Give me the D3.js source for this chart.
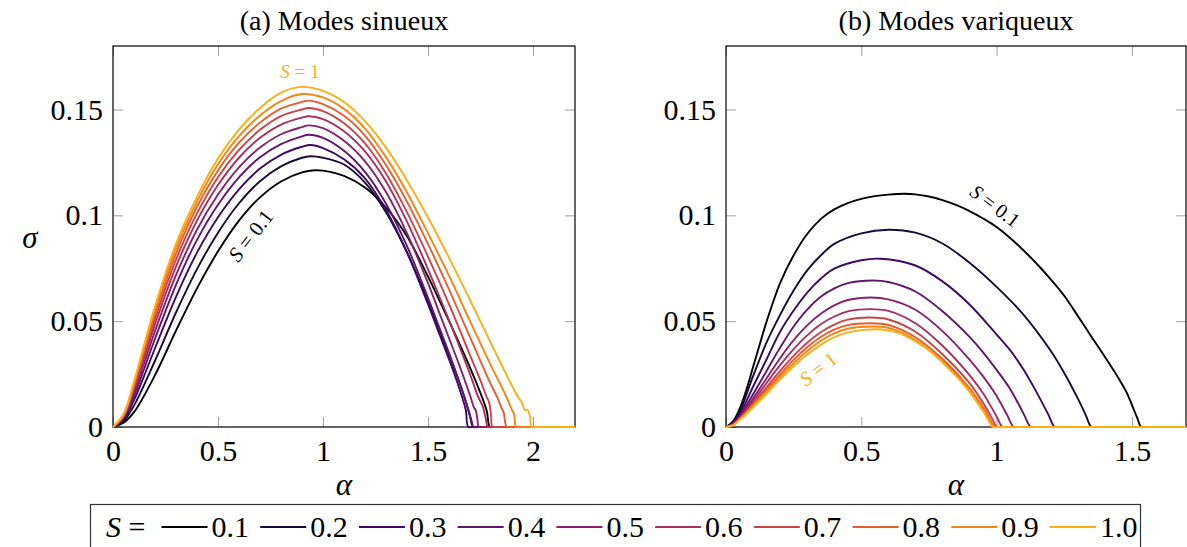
<!DOCTYPE html>
<html><head><meta charset="utf-8">
<script src="https://cdn.jsdelivr.net/npm/d3@7"></script>
<style>
body{margin:0;background:#fff}
svg{display:block}
text{font-family:"Liberation Serif","Times New Roman",serif}
</style>
</head><body>
<svg id="chart" width="1187" height="547"></svg>
<script>
// ---------- data ----------
const sValues = [0.1,0.2,0.3,0.4,0.5,0.6,0.7,0.8,0.9,1.0];
const legendLabels = ["0.1","0.2","0.3","0.4","0.5","0.6","0.7","0.8","0.9","1.0"];
const xTicksLeft = [0,0.5,1,1.5,2];
const xTickLabelsLeft = ["0","0.5","1","1.5","2"];
const xTicksRight = [0,0.5,1,1.5];
const xTickLabelsRight = ["0","0.5","1","1.5"];
const yTicks = [0,0.05,0.1,0.15];
const yTickLabels = ["0","0.05","0.1","0.15"];
const panelTitles = ["(a) Modes sinueux","(b) Modes variqueux"];

// (a) sinuous modes: [alpha, sigma]
const sin01 = [[0,0],[0.05,0.002],[0.1,0.007],[0.2,0.0245],[0.3,0.0455],[0.4,0.0655],[0.5,0.083],[0.6,0.0975],[0.7,0.1085],[0.8,0.116],[0.9,0.1203],[0.96,0.1213],[1.0,0.1211],[1.1,0.1186],[1.2,0.1131],[1.3,0.1036],[1.4,0.0901],[1.5,0.0711],[1.6,0.0501],[1.7,0.0281],[1.75,0.016],[1.78,0.0075],[1.795,0],[1.82,0],[2.2,0]];
const sin02 = [[0,0],[0.05,0.0028],[0.1,0.0101],[0.2,0.0313],[0.3,0.0541],[0.4,0.0746],[0.5,0.0918],[0.6,0.1057],[0.7,0.1161],[0.8,0.1231],[0.9,0.1272],[0.94,0.1279],[1.0,0.1272],[1.1,0.124],[1.2,0.1155],[1.3,0.1015],[1.4,0.0825],[1.5,0.0595],[1.55,0.047],[1.6,0.034],[1.65,0.021],[1.68,0.012],[1.70,0.005],[1.715,0],[1.74,0],[2.2,0]];
const sin03 = [[0,0],[0.05,0.0036],[0.1,0.0127],[0.2,0.0372],[0.3,0.0615],[0.4,0.0824],[0.5,0.0991],[0.6,0.1123],[0.7,0.1221],[0.8,0.1286],[0.9,0.1324],[0.94,0.1332],[1.0,0.1318],[1.1,0.1265],[1.2,0.1175],[1.3,0.1025],[1.4,0.0825],[1.5,0.058],[1.55,0.045],[1.6,0.032],[1.65,0.018],[1.68,0.008],[1.692,0],[1.72,0],[2.2,0]];
const sin04 = [[0,0],[0.05,0.0041],[0.1,0.0147],[0.2,0.0417],[0.3,0.0672],[0.4,0.0884],[0.5,0.105],[0.6,0.1179],[0.7,0.1274],[0.8,0.1336],[0.9,0.1373],[0.93,0.1381],[1.0,0.1366],[1.1,0.1305],[1.2,0.1205],[1.3,0.1055],[1.4,0.0855],[1.5,0.061],[1.55,0.048],[1.6,0.035],[1.65,0.021],[1.69,0.009],[1.71,0.002],[1.716,0],[1.74,0],[2.2,0]];
const sin05 = [[0,0],[0.05,0.0046],[0.1,0.0163],[0.2,0.0453],[0.3,0.0717],[0.4,0.0932],[0.5,0.1098],[0.6,0.1227],[0.7,0.132],[0.8,0.1383],[0.9,0.1417],[0.93,0.1425],[1.0,0.1412],[1.1,0.1352],[1.2,0.1255],[1.3,0.111],[1.4,0.0915],[1.5,0.068],[1.55,0.055],[1.6,0.042],[1.65,0.029],[1.7,0.015],[1.72,0.009],[1.727,0.008],[1.735,0.004],[1.742,0],[1.77,0],[2.2,0]];
const sin06 = [[0,0],[0.05,0.005],[0.1,0.0177],[0.2,0.0486],[0.3,0.0758],[0.4,0.0975],[0.5,0.1143],[0.6,0.1272],[0.7,0.1366],[0.8,0.1429],[0.9,0.1462],[0.93,0.1468],[1.0,0.1455],[1.1,0.1397],[1.2,0.1302],[1.3,0.116],[1.4,0.097],[1.5,0.0745],[1.6,0.0505],[1.65,0.038],[1.7,0.025],[1.74,0.014],[1.75,0.012],[1.76,0.01],[1.775,0.004],[1.785,0],[1.81,0],[2.2,0]];
const sin07 = [[0,0],[0.05,0.0053],[0.1,0.0189],[0.2,0.0512],[0.3,0.0791],[0.4,0.1009],[0.5,0.118],[0.6,0.1309],[0.7,0.1404],[0.8,0.1469],[0.9,0.15],[0.93,0.1507],[1.0,0.1492],[1.1,0.1435],[1.2,0.134],[1.3,0.1198],[1.4,0.1015],[1.5,0.0805],[1.6,0.058],[1.7,0.034],[1.75,0.022],[1.78,0.014],[1.79,0.012],[1.80,0.006],[1.807,0],[1.83,0],[2.2,0]];
const sin08 = [[0,0],[0.05,0.0056],[0.1,0.0199],[0.2,0.0534],[0.3,0.082],[0.4,0.104],[0.5,0.1212],[0.6,0.1343],[0.7,0.1438],[0.8,0.1504],[0.9,0.1536],[0.93,0.1542],[1.0,0.1525],[1.1,0.147],[1.2,0.1377],[1.3,0.1238],[1.4,0.1065],[1.5,0.0865],[1.6,0.065],[1.7,0.0425],[1.8,0.02],[1.83,0.014],[1.85,0.009],[1.86,0.007],[1.875,0],[1.9,0],[2.2,0]];
const sin09 = [[0,0],[0.05,0.0058],[0.1,0.0208],[0.2,0.0554],[0.3,0.0845],[0.4,0.1065],[0.5,0.1241],[0.6,0.1374],[0.7,0.1472],[0.8,0.154],[0.9,0.1573],[1.0,0.1557],[1.1,0.1503],[1.2,0.141],[1.3,0.1275],[1.4,0.1108],[1.5,0.0915],[1.6,0.0715],[1.7,0.05],[1.8,0.029],[1.87,0.015],[1.9,0.008],[1.91,0.006],[1.92,0],[1.95,0],[2.2,0]];
const sin10 = [[0,0],[0.05,0.006],[0.1,0.0215],[0.2,0.057],[0.3,0.0865],[0.4,0.1087],[0.5,0.1268],[0.6,0.1405],[0.7,0.1507],[0.8,0.158],[0.9,0.1607],[1.0,0.1588],[1.1,0.1535],[1.2,0.1445],[1.3,0.132],[1.4,0.1165],[1.5,0.099],[1.6,0.08],[1.7,0.06],[1.8,0.0395],[1.9,0.0195],[1.93,0.014],[1.95,0.011],[1.96,0.008],[1.975,0.008],[1.985,0.005],[1.995,0],[2.02,0],[2.2,0]];

// (b) varicose modes: [alpha, sigma]
const var01 = [[0,0],[0.025,0.0025],[0.05,0.0085],[0.075,0.0175],[0.1,0.0283],[0.125,0.0392],[0.15,0.0498],[0.2,0.068],[0.25,0.0811],[0.3,0.0912],[0.35,0.0982],[0.4,0.1028],[0.45,0.1058],[0.5,0.1078],[0.55,0.1091],[0.6,0.1098],[0.66,0.1102],[0.7,0.1099],[0.75,0.1089],[0.8,0.1072],[0.85,0.1049],[0.9,0.102],[0.95,0.0985],[1.0,0.0945],[1.05,0.0893],[1.1,0.0834],[1.15,0.0769],[1.2,0.0698],[1.25,0.062],[1.3,0.0525],[1.35,0.0428],[1.4,0.0332],[1.45,0.0232],[1.48,0.0165],[1.5,0.0105],[1.52,0.0042],[1.535,0],[1.56,0],[1.7,0]];
const var02 = [[0,0],[0.025,0.002],[0.05,0.007],[0.1,0.024],[0.15,0.040],[0.2,0.053],[0.25,0.0645],[0.3,0.074],[0.35,0.081],[0.4,0.0865],[0.5,0.0915],[0.6,0.0932],[0.7,0.0918],[0.8,0.0867],[0.9,0.0776],[1.0,0.0662],[1.1,0.053],[1.2,0.036],[1.25,0.0255],[1.3,0.0135],[1.33,0.0055],[1.35,0],[1.37,0],[1.7,0]];
const var03 = [[0,0],[0.025,0.0018],[0.05,0.0058],[0.1,0.019],[0.15,0.032],[0.2,0.045],[0.25,0.055],[0.3,0.0635],[0.35,0.07],[0.4,0.0748],[0.5,0.0788],[0.57,0.0795],[0.7,0.0763],[0.8,0.0688],[0.9,0.0579],[1.0,0.0437],[1.05,0.0363],[1.1,0.027],[1.15,0.0159],[1.19,0.0062],[1.215,0],[1.235,0],[1.7,0]];
const var04 = [[0,0],[0.025,0.0015],[0.05,0.005],[0.1,0.0155],[0.15,0.0265],[0.2,0.0375],[0.25,0.0475],[0.3,0.0555],[0.35,0.0615],[0.4,0.0655],[0.45,0.068],[0.543,0.0692],[0.6,0.0685],[0.7,0.064],[0.8,0.0547],[0.9,0.0426],[0.95,0.0353],[1.0,0.027],[1.05,0.018],[1.1,0.0062],[1.126,0],[1.145,0],[1.7,0]];
const var05 = [[0,0],[0.025,0.0012],[0.05,0.0045],[0.1,0.0135],[0.15,0.023],[0.2,0.0325],[0.25,0.041],[0.3,0.048],[0.35,0.0535],[0.4,0.0575],[0.45,0.06],[0.537,0.0612],[0.6,0.0603],[0.7,0.0554],[0.8,0.0453],[0.9,0.0318],[0.95,0.0239],[1.0,0.0147],[1.04,0.0054],[1.063,0],[1.08,0],[1.7,0]];
const var06 = [[0,0],[0.025,0.001],[0.05,0.004],[0.1,0.0122],[0.15,0.0208],[0.2,0.0292],[0.25,0.0368],[0.3,0.0433],[0.35,0.0485],[0.4,0.0522],[0.45,0.0546],[0.535,0.0557],[0.6,0.0549],[0.7,0.049],[0.8,0.0384],[0.9,0.0245],[0.95,0.0159],[0.98,0.0095],[1.0,0.005],[1.022,0],[1.04,0],[1.7,0]];
const var07 = [[0,0],[0.025,0.001],[0.05,0.0037],[0.1,0.011],[0.15,0.0188],[0.2,0.0265],[0.25,0.0336],[0.3,0.0398],[0.35,0.0448],[0.4,0.0484],[0.45,0.0507],[0.535,0.0517],[0.6,0.0508],[0.7,0.045],[0.8,0.0344],[0.9,0.0207],[0.95,0.0114],[0.98,0.0049],[1.002,0],[1.02,0],[1.7,0]];
const var08 = [[0,0],[0.025,0.0009],[0.05,0.0036],[0.1,0.0104],[0.15,0.0176],[0.2,0.0249],[0.25,0.0317],[0.3,0.0377],[0.35,0.0425],[0.4,0.046],[0.45,0.0481],[0.535,0.049],[0.6,0.0482],[0.7,0.0424],[0.8,0.0321],[0.9,0.0184],[0.95,0.0093],[0.975,0.0039],[0.993,0],[1.01,0],[1.7,0]];
const var09 = [[0,0],[0.025,0.0008],[0.05,0.0035],[0.1,0.0099],[0.15,0.0168],[0.2,0.0237],[0.25,0.0302],[0.3,0.0359],[0.35,0.0407],[0.4,0.0442],[0.45,0.0464],[0.54,0.0475],[0.6,0.0468],[0.7,0.0411],[0.8,0.0311],[0.9,0.0176],[0.95,0.0086],[0.975,0.0031],[0.99,0],[1.01,0],[1.7,0]];
const var10 = [[0,0],[0.025,0.0007],[0.05,0.0033],[0.1,0.0093],[0.15,0.0158],[0.2,0.0225],[0.25,0.0287],[0.3,0.0342],[0.35,0.0388],[0.4,0.0424],[0.45,0.0447],[0.55,0.0462],[0.6,0.0456],[0.65,0.0439],[0.7,0.0404],[0.75,0.0363],[0.8,0.0305],[0.85,0.024],[0.9,0.0166],[0.95,0.0074],[0.97,0.0031],[0.985,0],[1.005,0],[1.7,0]];

const sinSeries = [sin01,sin02,sin03,sin04,sin05,sin06,sin07,sin08,sin09,sin10];
const varSeries = [var01,var02,var03,var04,var05,var06,var07,var08,var09,var10];

// ---------- style ----------
const colorT = [0,0.1,0.19,0.28,0.37,0.46,0.55,0.64,0.73,0.82];
const colors = colorT.map(t => d3.interpolateInferno(t));
const FONT = 30;

const svg = d3.select("#chart");
const defs = svg.append("defs");

const panels = [
  {series: sinSeries, xmax: 2.2, x0: 113, x1: 575, ticks: xTicksLeft, tickLabels: xTickLabelsLeft, title: panelTitles[0]},
  {series: varSeries, xmax: 1.7, x0: 726, x1: 1186, ticks: xTicksRight, tickLabels: xTickLabelsRight, title: panelTitles[1]}
];
const yTop = 46, yBot = 427;
const y = d3.scaleLinear().domain([0,0.18]).range([yBot,yTop]);

panels.forEach((p, pi) => {
  const x = d3.scaleLinear().domain([0,p.xmax]).range([p.x0,p.x1]);
  p.x = x;
  const g = svg.append("g");

  defs.append("clipPath").attr("id","clip"+pi).append("rect")
    .attr("x",p.x0).attr("y",yTop).attr("width",p.x1-p.x0).attr("height",yBot-yTop+1.2);

  const fmtX = d => p.tickLabels[p.ticks.indexOf(d)];
  const fmtY = d => yTickLabels[yTicks.indexOf(d)];
  const bottom = g.append("g").attr("transform",`translate(0,${yBot})`)
    .call(d3.axisBottom(x).tickValues(p.ticks).tickSize(-10).tickPadding(13).tickFormat(fmtX));
  const top = g.append("g").attr("transform",`translate(0,${yTop})`)
    .call(d3.axisTop(x).tickValues(p.ticks).tickSize(-10).tickFormat(""));
  const left = g.append("g").attr("transform",`translate(${p.x0},0)`)
    .call(d3.axisLeft(y).tickValues(yTicks).tickSize(-10).tickPadding(10).tickFormat(fmtY));
  const right = g.append("g").attr("transform",`translate(${p.x1},0)`)
    .call(d3.axisRight(y).tickValues(yTicks).tickSize(-10).tickFormat(""));
  [bottom,top,left,right].forEach(a => {
    a.select(".domain").remove();
    a.selectAll(".tick line").attr("stroke","#a0a0a0").attr("stroke-width",1);
    a.selectAll(".tick text").attr("font-size",FONT).attr("font-family",'"Liberation Serif",serif').attr("fill","#000");
  });

  g.append("rect").attr("x",p.x0).attr("y",yTop).attr("width",p.x1-p.x0).attr("height",yBot-yTop)
    .attr("fill","none").attr("stroke","#000").attr("stroke-width",1.2);

  const line = d3.line().x(d => x(d[0])).y(d => y(d[1])).curve(d3.curveCatmullRom.alpha(0.5));
  const cg = g.append("g").attr("clip-path",`url(#clip${pi})`);
  p.series.forEach((s, i) => {
    cg.append("path").datum(s).attr("d",line).attr("fill","none")
      .attr("stroke",colors[i]).attr("stroke-width",1.9).attr("stroke-linejoin","round");
  });

  svg.append("text").attr("x",(p.x0+p.x1)/2).attr("y",30).attr("text-anchor","middle")
    .attr("font-size",28).attr("fill","#000").text(p.title);
  svg.append("text").attr("x",(p.x0+p.x1)/2).attr("y",495).attr("text-anchor","middle")
    .attr("font-size",31).attr("font-style","italic").attr("fill","#000").text("α");
});

svg.append("text").attr("x",30).attr("y",248).attr("text-anchor","middle")
  .attr("font-size",31).attr("font-style","italic").attr("fill","#000").text("σ");

function sLabel(px, py, rot, val, color, size){
  const t = svg.append("text").attr("transform",`translate(${px},${py}) rotate(${rot})`)
    .attr("text-anchor","middle").attr("dy","0.35em").attr("font-size",size).style("fill",color);
  t.append("tspan").attr("font-style","italic").text("S");
  t.append("tspan").text(" = " + val);
}
const xl = panels[0].x, xr = panels[1].x;
sLabel(xl(0.89), y(0.168), 0, "1", colors[9], 19);
sLabel(xl(0.655), y(0.0905), -52, "0.1", colors[0], 21);
sLabel(xr(0.995), y(0.1045), 37, "0.1", colors[0], 20);
sLabel(xr(0.34), y(0.0275), -38, "1", colors[9], 20);

const lg = svg.append("g");
lg.append("rect").attr("x",90.5).attr("y",504.5).attr("width",1050).attr("height",70)
  .attr("fill","#fff").attr("stroke","#333").attr("stroke-width",1.2);
const lt = lg.append("text").attr("x",106).attr("y",537).attr("font-size",FONT).attr("fill","#000");
lt.append("tspan").attr("font-style","italic").text("S");
lt.append("tspan").text(" =");
const lx = d3.scaleLinear().domain([0,9]).range([161.5,1050]);
sValues.forEach((s,i) => {
  lg.append("line").attr("x1",lx(i)).attr("x2",lx(i)+46).attr("y1",527).attr("y2",527)
    .attr("stroke",colors[i]).attr("stroke-width",2);
  lg.append("text").attr("x",lx(i)+50).attr("y",537).attr("font-size",FONT).attr("fill","#000").text(legendLabels[i]);
});
</script>
</body></html>
